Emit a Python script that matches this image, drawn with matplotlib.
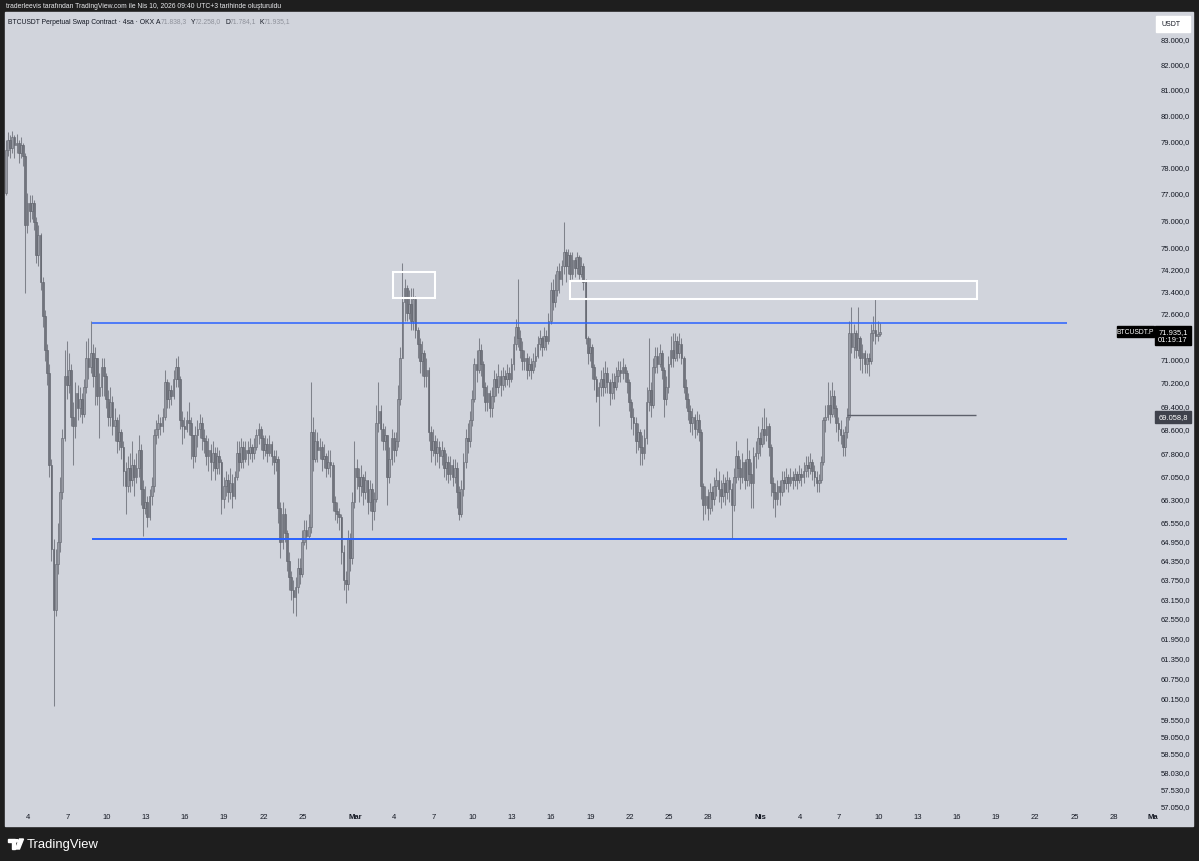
import numpy as np
import matplotlib
matplotlib.use("Agg")
import matplotlib.pyplot as plt
import matplotlib.dates as mdates
import matplotlib.transforms as mtransforms
from matplotlib.patches import Rectangle, Circle, Polygon
from matplotlib.ticker import FixedLocator, NullLocator, NullFormatter, FuncFormatter
from datetime import datetime, timedelta

plt.rcParams['font.family'] = ['Liberation Sans', 'DejaVu Sans']

# ---- data: BTCUSDT.P 4h candles (OKX) ----
candle_start = datetime(2026, 2, 2, 3)
first_open = 78600
closes = [
    77000, 78600, 79000, 78700, 79100, 78800, 78900, 78500, 78800, 78400,
    75800, 76600, 76300, 76600, 75900, 74700, 75400, 73700, 72500, 71300,
    70500, 67400, 64700, 62800, 64200, 64900, 66500, 68300, 70400, 70100,
    70600, 69000, 68700, 69800, 69300, 69600, 69100, 70000, 71000, 70700,
    71200, 70400, 71000, 69700, 70000, 70700, 70400, 69600, 69000, 69500,
    68700, 68900, 68200, 68500, 68000, 67200, 66700, 67300, 66900, 67400,
    67000, 67300, 67900, 66600, 66000, 66200, 65700, 66400, 66700, 68400,
    68600, 68800, 68700, 69000, 70200, 69600, 69900, 69700, 70300, 70700,
    70300, 68900, 68700, 68600, 68900, 68800, 68400, 67700, 68400, 68600,
    68800, 68300, 68200, 67700, 67900, 67500, 67800, 67300, 67700, 67500,
    66300, 66700, 66900, 66500, 66800, 66400, 67000, 67800, 67500, 68000,
    67600, 67900, 67800, 68000, 67800, 68000, 68400, 68600, 68300, 67900,
    68100, 67800, 68100, 67700, 67500, 67600, 66000, 64900, 65800, 65200,
    64300, 63800, 63400, 63200, 63500, 64100, 63900, 64900, 65300, 65100,
    65400, 68500, 67600, 68200, 67900, 68000, 67600, 67700, 67300, 67500,
    67400, 66200, 65900, 65800, 65700, 64600, 63700, 63600, 65000, 64400,
    66200, 67300, 67000, 66700, 67000, 66500, 66900, 66200, 66600, 65900,
    66300, 68800, 69200, 68600, 68200, 68400, 67000, 67600, 68300, 67900,
    68200, 69600, 71000, 73000, 73500, 72600, 72900, 72300, 73100, 72000,
    71500, 70900, 71200, 70400, 70600, 68500, 67900, 68200, 67800, 68000,
    67700, 67900, 67300, 67500, 67100, 67400, 67000, 67300, 66500, 65800,
    66600, 67500, 68300, 68200, 68900, 69600, 70800, 70600, 71300, 70800,
    70000, 69500, 69800, 69300, 69700, 70300, 70000, 70400, 70100, 70400,
    70300, 70500, 70300, 70800, 71500, 72100, 71700, 71300, 70900, 71000,
    70600, 70800, 70600, 70900, 71100, 71500, 71700, 71400, 71800, 71600,
    72300, 73400, 73000, 73400, 74100, 73800, 74300, 74800, 74300, 74700,
    74000, 74500, 74200, 74600, 74000, 74300, 73700, 71700, 71200, 71400,
    70700, 70300, 69700, 70000, 70300, 70000, 70500, 70200, 69800, 70200,
    70000, 70400, 70600, 70500, 70700, 70500, 70200, 69500, 69000, 68800,
    68200, 68500, 68000, 67800, 68300, 69500, 69900, 69400, 70700, 71100,
    70800, 71200, 70600, 69600, 70000, 70800, 71300, 71000, 71600, 71200,
    71500, 71000, 70000, 69600, 69200, 68800, 69000, 68600, 68900, 68500,
    66700, 66100, 66400, 66000, 66500, 66300, 66700, 66900, 66600, 66400,
    66800, 66500, 66900, 66600, 66100, 67000, 67700, 67300, 67000, 67500,
    66900, 67600, 67100, 66800, 67700, 67800, 68300, 68100, 68600, 68400,
    68700, 68000, 66800, 66500, 66300, 66700, 66500, 66900, 66800, 67000,
    66800, 67000, 66900, 67100, 66900, 67100, 67000, 67200, 67400, 67300,
    67500, 67200, 67000, 66800, 66900, 67500, 68900, 69000, 69400, 69100,
    69700, 69300, 68800, 68600, 68400, 68000, 68500, 69000, 71900, 71400,
    71900, 71300, 71700, 71000, 71200, 70800, 71000, 70900, 71900, 72000,
    71800, 71838.3, 71935.1,
]
highs = [
    78900, 79000, 79300, 79200, 79350, 79200, 79250, 79000, 79100, 78900,
    78500, 77000, 76900, 76900, 76700, 76100, 75800, 75500, 73900, 72700,
    71500, 70800, 67600, 65000, 64700, 65500, 67000, 68600, 71300, 71600,
    71200, 70800, 69500, 70200, 70100, 70000, 69800, 70300, 71600, 71700,
    72300, 71500, 71400, 71000, 70500, 71000, 71000, 70500, 69900, 70000,
    69700, 69300, 69000, 69100, 68600, 68200, 67500, 67700, 67800, 68200,
    67600, 67800, 68400, 68100, 66900, 66700, 66400, 66600, 67000, 68600,
    68900, 69100, 69000, 69300, 70600, 70300, 70200, 70100, 70600, 71000,
    71100, 70400, 69200, 69000, 69200, 69500, 69000, 68400, 68700, 68900,
    69100, 69000, 68600, 68400, 68300, 68100, 68200, 68000, 68000, 67900,
    67600, 67000, 67200, 67100, 67300, 67100, 67200, 68200, 68200, 68300,
    68200, 68200, 68200, 68300, 68100, 68300, 68600, 68800, 68700, 68400,
    68400, 68300, 68400, 68200, 67900, 67900, 67700, 66200, 66200, 66000,
    65300, 64600, 64000, 63700, 63800, 64400, 64400, 65300, 65600, 65600,
    65800, 70200, 69000, 68600, 68500, 68300, 68200, 68100, 67800, 67900,
    67900, 67500, 66400, 66200, 66000, 65800, 64800, 64000, 65300, 65200,
    66500, 68200, 67600, 67300, 67400, 67100, 67200, 66900, 66900, 66800,
    66500, 69400, 70200, 69400, 68800, 68700, 68200, 68000, 68600, 68500,
    68500, 70100, 71400, 74400, 73800, 73600, 73400, 73500, 73500, 73200,
    72100, 71700, 71600, 71300, 71000, 70700, 68700, 68600, 68400, 68300,
    68200, 68200, 68000, 67800, 67700, 67700, 67600, 67600, 67500, 66700,
    66900, 67800, 68600, 68800, 69200, 69900, 71000, 71300, 71700, 71500,
    70900, 70200, 70100, 69900, 70000, 70600, 70500, 70800, 70600, 70700,
    70600, 70800, 70700, 71000, 71800, 72400, 73800, 72000, 71600, 71300,
    71200, 71100, 71000, 71200, 71400, 71800, 72000, 71800, 72100, 72000,
    72600, 73700, 73800, 74000, 74300, 74400, 74500, 75900, 74900, 74900,
    74800, 74800, 74600, 74800, 74700, 74600, 74400, 73800, 71800, 71700,
    71500, 70800, 70400, 70200, 70600, 70700, 70900, 70700, 70300, 70500,
    70500, 70700, 70900, 70900, 71000, 70800, 70600, 70300, 69600, 69300,
    69000, 68800, 68600, 68400, 68600, 70000, 71700, 70200, 71000, 71400,
    71400, 71500, 71300, 70700, 70400, 71100, 71800, 71900, 71900, 71800,
    71900, 71700, 71100, 70300, 69800, 69400, 69300, 69100, 69200, 69100,
    68600, 66800, 66700, 66600, 66800, 66700, 67000, 67300, 67200, 66900,
    67100, 67000, 67200, 67000, 66800, 67300, 68200, 67900, 67600, 67800,
    67600, 68300, 67900, 67500, 68000, 68200, 68700, 68500, 69000, 69300,
    69000, 68800, 68100, 67000, 66800, 66900, 66900, 67200, 67200, 67300,
    67100, 67300, 67200, 67300, 67200, 67400, 67300, 67500, 67700, 67700,
    67800, 67600, 67400, 67200, 67100, 67700, 69000, 69400, 70200, 69900,
    70200, 69900, 69400, 69000, 68900, 68600, 68700, 69300, 72300, 72800,
    72200, 72000, 72800, 71800, 71500, 71300, 71200, 71200, 72200, 72500,
    73100, 72300, 72258.0,
]
lows = [
    76700, 76900, 78400, 78300, 78500, 78300, 78500, 78100, 78300, 78000,
    73300, 75500, 75900, 76000, 75600, 74400, 74300, 73400, 72100, 70900,
    70100, 67000, 64300, 59900, 62600, 63900, 64600, 66300, 68200, 69600,
    69800, 68700, 67400, 68300, 68900, 69000, 68800, 69000, 69800, 70300,
    70500, 70000, 69400, 69400, 68300, 69700, 69700, 69300, 68700, 68700,
    68400, 68200, 67800, 67900, 67600, 66700, 65800, 66500, 66500, 66700,
    66400, 66800, 67000, 66100, 65100, 65800, 65400, 65600, 66100, 66500,
    68100, 68300, 68400, 68500, 68900, 69300, 69300, 69400, 69600, 70000,
    70000, 68600, 68100, 68300, 68500, 68400, 67600, 67300, 67500, 68000,
    68300, 67900, 67800, 67400, 67200, 66900, 67200, 66900, 67100, 67100,
    65800, 66000, 66400, 66200, 66300, 66000, 66300, 66900, 67200, 67300,
    67300, 67500, 67400, 67600, 67500, 67600, 67900, 68100, 67900, 67600,
    67700, 67500, 67700, 67400, 67100, 67200, 65500, 64400, 64700, 64900,
    64000, 63400, 63100, 62700, 62600, 63300, 63600, 63800, 64800, 64700,
    65000, 65200, 67200, 67500, 67500, 67600, 67200, 67300, 67000, 67100,
    67000, 65900, 65600, 65500, 65300, 64200, 63400, 63000, 63400, 64000,
    64200, 66000, 66600, 66200, 66400, 66100, 66300, 65800, 65900, 65300,
    65600, 66200, 68500, 68200, 67900, 67900, 66100, 66800, 67400, 67500,
    67700, 68000, 69400, 71000, 72300, 72300, 72400, 72000, 72000, 71700,
    71000, 70500, 70400, 70000, 70000, 68200, 67500, 67700, 67400, 67500,
    67300, 67400, 67000, 66900, 66800, 66900, 66700, 66800, 66000, 65600,
    65700, 66400, 67300, 67800, 68000, 68700, 69500, 70200, 70500, 70400,
    69700, 69200, 69200, 69000, 69000, 69500, 69700, 69800, 69700, 69900,
    70000, 70100, 70000, 70200, 70600, 71300, 71400, 71000, 70600, 70600,
    70300, 70400, 70300, 70500, 70700, 71000, 71300, 71100, 71300, 71300,
    71500, 72200, 72700, 72800, 73200, 73300, 73600, 74000, 73700, 74000,
    73200, 73800, 73900, 74000, 73800, 73900, 73400, 71500, 70800, 70900,
    70300, 69900, 69500, 68700, 69700, 69700, 69800, 69800, 69400, 69600,
    69600, 69900, 70200, 70200, 70300, 70200, 69800, 69200, 68600, 68400,
    67800, 67900, 67400, 67400, 67600, 68100, 69200, 69000, 69300, 70500,
    70500, 70700, 70300, 69000, 69400, 69800, 70700, 70700, 70900, 70900,
    71000, 70800, 69800, 69300, 68900, 68500, 68400, 68300, 68400, 68200,
    66300, 65600, 65800, 65600, 65800, 65900, 66100, 66400, 66200, 66000,
    66200, 66100, 66300, 66200, 65000, 65900, 66800, 66900, 66600, 66800,
    66600, 66700, 66700, 66000, 66000, 67300, 67600, 67700, 68000, 68100,
    68200, 67700, 66400, 66000, 65700, 66100, 66100, 66400, 66500, 66600,
    66500, 66700, 66600, 66700, 66600, 66800, 66700, 66800, 67000, 67000,
    67100, 66900, 66700, 66500, 66500, 66800, 67400, 68500, 68900, 68800,
    69000, 69000, 68500, 68200, 68100, 67700, 67700, 68300, 68900, 71200,
    71000, 71000, 71100, 70600, 70500, 70500, 70500, 70400, 70800, 71600,
    71500, 71600, 71784.1,
]
assert len(closes) == len(highs) == len(lows), (len(closes), len(highs), len(lows))

price_ticks = [83000, 82000, 81000, 80000, 79000, 78000, 77000, 76000, 75000,
               74200, 73400, 72600, 71000, 70200, 69400, 68600, 67800, 67050,
               66300, 65550, 64950, 64350, 63750, 63150, 62550, 61950, 61350,
               60750, 60150, 59550, 59050, 58550, 58030, 57530, 57050]
date_ticks = [datetime(2026, 2, d) for d in (4, 7, 10, 13, 16, 19, 22, 25)] + \
             [datetime(2026, 3, d) for d in (1, 4, 7, 10, 13, 16, 19, 22, 25, 28)] + \
             [datetime(2026, 4, d) for d in (1, 4, 7, 10, 13, 16, 19, 22, 25, 28)] + \
             [datetime(2026, 5, 1)]
date_labels = ['4', '7', '10', '13', '16', '19', '22', '25',
               'Mar', '4', '7', '10', '13', '16', '19', '22', '25', '28',
               'Nis', '4', '7', '10', '13', '16', '19', '22', '25', '28', 'Ma']

range_top = 72240
range_bottom = 65000
range_from = datetime(2026, 2, 8, 21)
range_to = datetime(2026, 4, 24, 10)
zones = [(datetime(2026, 3, 3, 22), datetime(2026, 3, 7, 3), 73130, 74060),
         (datetime(2026, 3, 17, 10), datetime(2026, 4, 17, 14), 73100, 73740)]
mark_price = 69058.8
mark_from = datetime(2026, 4, 7, 14)
mark_to = datetime(2026, 4, 17, 12)
last_price = 71935.1
countdown = '01:19:17'

# ---- layout (pixels of the 1199x862 screenshot) ----
W, H = 1199, 862
BG = '#1e1e1e'
PANEL = '#d1d4dc'
TXT = '#131722'

fig = plt.figure(figsize=(W / 100, H / 100), dpi=100, facecolor=BG)


def fxy(px, py):
    return px / W, 1 - py / H


def rect_px(x0, y0, x1, y1, **kw):
    a, b = fxy(x0, y1)
    fig.patches.append(Rectangle((a, b), (x1 - x0) / W, (y1 - y0) / H,
                                 transform=fig.transFigure, **kw))


rect_px(5, 13, 1193, 827, color=PANEL, zorder=-10)

AX_L, AX_R, AX_T, AX_B = 5, 1150, 13, 810
l, b = fxy(AX_L, AX_B)
ax = fig.add_axes([l, b, (AX_R - AX_L) / W, (AX_B - AX_T) / H])
ax.set_facecolor('none')
for s in ax.spines.values():
    s.set_visible(False)

# x scale: Feb 4 at px 28, 13.08 px per day
anchor = mdates.date2num(datetime(2026, 2, 4))
ppd = 13.08
ax.set_xlim(anchor - (28 - AX_L) / ppd, anchor + (AX_R - 28) / ppd)

# y scale: log, 83000 at px 40, 57050 at px 807
k = (807 - 40) / np.log(83000 / 57050)


def py_of(p):
    return 40 + k * np.log(83000 / p)


ax.set_yscale('log')
ax.set_ylim(83000 * np.exp(-(AX_B - 40) / k), 83000 * np.exp((40 - AX_T) / k))


def tr_fmt(v, pos=None):
    s = f"{v:,.1f}"
    return s.replace(',', 'X').replace('.', ',').replace('X', '.')


ax.yaxis.tick_right()
ax.yaxis.set_major_locator(FixedLocator(price_ticks))
ax.yaxis.set_minor_locator(NullLocator())
ax.yaxis.set_major_formatter(FuncFormatter(tr_fmt))
ax.yaxis.set_minor_formatter(NullFormatter())
ax.tick_params(axis='y', which='both', length=0, pad=7.5, labelsize=5.5, labelcolor=TXT)
ax.set_xticks([])

# date labels (drawn as text so the clipped May label is kept)
tb = mtransforms.blended_transform_factory(ax.transData, ax.transAxes)
for d, lab in zip(date_ticks, date_labels):
    bold = not lab.isdigit()
    ax.text(mdates.date2num(d), -8 / (AX_B - AX_T), lab, transform=tb, ha='center', va='center',
            fontsize=5.5, color=TXT, fontweight='bold' if bold else 'normal', clip_on=False)

# ---- candles ----
n = len(closes)
t = np.array([mdates.date2num(candle_start + timedelta(hours=4 * i)) for i in range(n)])
c = np.array(closes, dtype=float)
o = np.concatenate([[first_open], c[:-1]])
hi = np.maximum(np.array(highs, dtype=float), np.maximum(o, c))
lo = np.minimum(np.array(lows, dtype=float), np.minimum(o, c))
up = c >= o
ax.vlines(t, lo, hi, color='#7f828b', linewidth=0.75, zorder=2)
body_w = 4 / 24 * 0.8
bot = np.minimum(o, c)
top = np.maximum(o, c)
top = np.maximum(top, bot * 1.0004)
ax.bar(t[up], top[up] - bot[up], bottom=bot[up], width=body_w, color='#979aa3',
       edgecolor='#686b74', linewidth=0.45, zorder=3)
ax.bar(t[~up], top[~up] - bot[~up], bottom=bot[~up], width=body_w, color='#71747d',
       edgecolor='#62656e', linewidth=0.45, zorder=3)

# ---- drawings ----
x0, x1 = mdates.date2num(range_from), mdates.date2num(range_to)
ax.hlines(range_top, x0, x1, color='#2962ff', linewidth=1.1, zorder=4)
ax.hlines(range_bottom, x0, x1, color='#2962ff', linewidth=1.4, zorder=4)
for zs, ze, zlo, zhi in zones:
    a = mdates.date2num(zs)
    ax.add_patch(Rectangle((a, zlo), mdates.date2num(ze) - a, zhi - zlo, fill=False,
                           edgecolor='white', linewidth=1.5, zorder=5))
ax.hlines(mark_price, mdates.date2num(mark_from), mdates.date2num(mark_to),
          color='#5d606b', linewidth=1.0, zorder=4)

# ---- price scale labels ----
def label_box(x0, x1, py0, py1, color):
    rect_px(x0, py0, x1, py1, color=color, zorder=5)


py = py_of(last_price)
label_box(1155, 1191, py - 6, py + 13, 'black')
fig.text(*fxy(1173, py), tr_fmt(last_price), ha='center', va='center', fontsize=5.4,
         color='white', zorder=6)
fig.text(*fxy(1173, py + 8), countdown, ha='center', va='center', fontsize=5.4,
         color='white', zorder=6)
label_box(1117, 1154, py - 5.5, py + 5.5, 'black')
fig.text(*fxy(1135.5, py), 'BTCUSDT.P', ha='center', va='center', fontsize=4.9,
         color='white', zorder=6)

py = py_of(mark_price) + 1.5
label_box(1155, 1191, py - 5.5, py + 6, '#3f424c')
fig.text(*fxy(1173, py), tr_fmt(mark_price), ha='center', va='center', fontsize=5.4,
         color='white', zorder=6)

label_box(1156, 1190, 17, 33, 'white')
fig.text(*fxy(1171, 25), 'USDT', ha='center', va='center', fontsize=5.0, color=TXT, zorder=6)

# ---- header / legend ----
fig.text(*fxy(6, 7), 'traderleevis tarafından TradingView.com ile Nis 10, 2026 09:40 UTC+3 '
         'tarihinde oluşturuldu', ha='left', va='center', fontsize=4.9, color='#e8e9ec')
fig.text(*fxy(8, 22), 'BTCUSDT Perpetual Swap Contract · 4sa · OKX', ha='left', va='center',
         fontsize=4.9, color=TXT)
ohlc = [('A', o[-1], 156), ('Y', hi[-1], 190.5), ('D', lo[-1], 225), ('K', c[-1], 259.5)]
for letter, val, px in ohlc:
    fig.text(*fxy(px, 22), letter, ha='left', va='center', fontsize=4.9, color=TXT)
    fig.text(*fxy(px + 4.5, 22), tr_fmt(val), ha='left', va='center', fontsize=4.9,
             color='#8f929b')

# ---- footer logo ----
def poly_px(pts, **kw):
    fig.patches.append(Polygon([fxy(x, y) for x, y in pts], closed=True,
                               transform=fig.transFigure, **kw))


poly_px([(8, 840), (15, 840), (15, 850), (12, 850), (12, 843), (8, 843)], color='white')
fig.patches.append(Circle(fxy(17, 841.8), 1.6 / W, transform=fig.transFigure, color='white'))
poly_px([(19.5, 840), (23.5, 840), (19.5, 850), (15.5, 850)], color='white')
fig.text(*fxy(27, 845), 'TradingView', ha='left', va='center', fontsize=9.4, color='white')

fig.savefig('out.png', dpi=100, facecolor=BG)
